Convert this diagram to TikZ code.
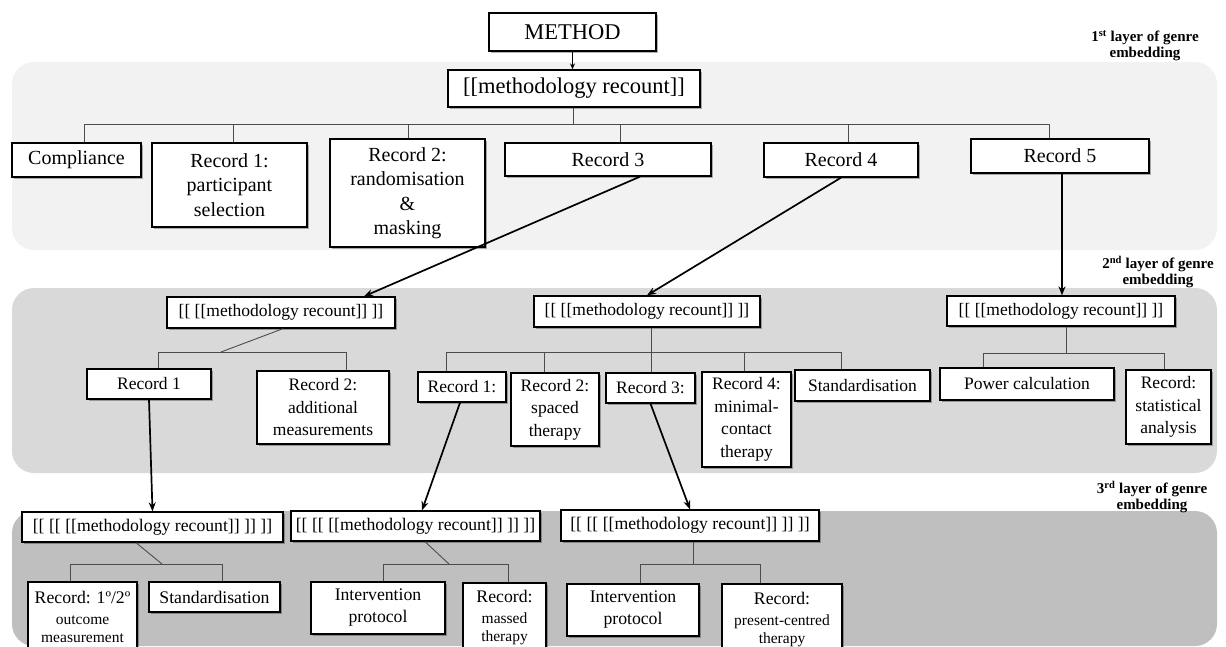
\documentclass[tikz,border=0pt]{standalone}
\usepackage{fontspec}
\setmainfont{Liberation Serif}
\usetikzlibrary{arrows.meta,shadows}

\definecolor{bandA}{HTML}{F2F2F2}
\definecolor{bandB}{HTML}{D9D9D9}
\definecolor{bandC}{HTML}{BFBFBF}

\newcommand\FBig{\fontsize{22.5}{27}\selectfont}
\newcommand\FOne{\fontsize{20}{24.5}\selectfont}
\newcommand\FTwo{\fontsize{17.5}{22.5}\selectfont}
\newcommand\FThree{\fontsize{17.7}{22}\selectfont}
\newcommand\FSmall{\fontsize{15.5}{18}\selectfont}
\newcommand\FLab{\bfseries\fontsize{15}{16}\selectfont}

\begin{document}
\begin{tikzpicture}[x=1pt,y=-1pt,
  band/.style={rounded corners=22pt},
  box/.style={draw=black, line width=1.3pt, fill=white, inner sep=0pt, align=center,
    drop shadow={shadow xshift=1.8pt, shadow yshift=-1.8pt, fill=black, opacity=0.3}},
  sz/.style 2 args={minimum width=#1pt, minimum height=#2pt},
  lab/.style={align=center, inner sep=0pt, font=\FLab},
  bus/.style={line width=0.9pt, draw=black!70},
  arr/.style={line width=1.7pt, -{Stealth[length=9pt,width=7pt]}},
  tarr/.style={line width=0.9pt, -{Stealth[length=6pt,width=5pt]}}
]
\useasboundingbox (0,0) rectangle (1226,646);

% layer bands
\fill[band, bandA] (12,62) rectangle (1217,250);
\fill[band, bandB] (12,288) rectangle (1217,473);
\fill[band, bandC] (12,511) rectangle (1217,646);

% layer captions
\node[lab] (lay1) at (1145,46) {1\textsuperscript{st} layer of genre\\embedding};
\node[lab] (lay2) at (1158,272) {2\textsuperscript{nd} layer of genre\\embedding};
\node[lab] (lay3) at (1152,497) {3\textsuperscript{rd} layer of genre\\embedding};

% top
\node[box, sz={167}{38}, font=\FBig] (method) at (572.5,32) {METHOD};
\node[box, sz={252}{37}, font=\FBig] (mr1) at (574,88.5) {[[methodology recount]]};

% first layer
\node[box, sz={129}{34}, font=\FOne] (comp) at (76.5,160) {Compliance};
\node[box, sz={155}{84}, font=\FOne] (r1) at (229.5,185) {Record 1:\\participant\\selection};
\node[box, sz={155}{108}, font=\FOne] (r2) at (407.5,193) {Record 2:\\randomisation\\\&\\masking};
\node[box, sz={206}{33}, font=\FOne] (r3) at (608,159.5) {Record 3};
\node[box, sz={154}{34}, font=\FOne] (r4) at (841,160) {Record 4};
\node[box, sz={178}{34}, font=\FOne] (r5) at (1060,156) {Record 5};

% second layer
\node[box, sz={228}{31}, font=\FTwo] (l2a) at (281,312.5) {[[ [[methodology recount]] ]]};
\node[box, sz={226}{31}, font=\FTwo] (l2b) at (647,311.5) {[[ [[methodology recount]] ]]};
\node[box, sz={228}{30}, font=\FTwo] (l2c) at (1061,311) {[[ [[methodology recount]] ]]};

\node[box, sz={124}{30}, font=\FTwo] (a1) at (149,384) {Record 1};
\node[box, sz={132}{73}, font=\FTwo] (a2) at (323,407.5) {Record 2:\\additional\\measurements};

\node[box, sz={88}{30}, font=\FTwo] (b1) at (462,387) {Record 1:};
\node[box, sz={88}{73}, font=\FTwo] (b2) at (555,409.5) {Record 2:\\spaced\\therapy};
\node[box, sz={89}{30}, font=\FTwo] (b3) at (650.5,388) {Record 3:};
\node[box, sz={89}{95}, font=\FTwo] (b4) at (746.5,419.5) {Record 4:\\minimal-\\contact\\therapy};
\node[box, sz={135}{31}, font=\FTwo] (b5) at (862.5,385.5) {Standardisation};

\node[box, sz={174}{32}, font=\FTwo] (c1) at (1027,384) {Power calculation};
\node[box, sz={85}{74}, font=\FTwo] (c2) at (1168.5,407) {Record:\\statistical\\analysis};

% third layer
\node[box, sz={261}{30}, font=\FThree] (l3a) at (152.5,527) {[[ [[ [[methodology recount]] ]] ]]};
\node[box, sz={249}{30}, font=\FThree] (l3b) at (415.5,526) {[[ [[ [[methodology recount]] ]] ]]};
\node[box, sz={258}{31}, font=\FThree] (l3c) at (690,525.5) {[[ [[ [[methodology recount]] ]] ]]};

\node[box, sz={109}{70}, font=\FSmall] (d1) at (82.5,617) {{\FThree Record: 1º/2º}\\[3pt]outcome\\measurement};
\node[box, sz={131}{30}, font=\FThree] (d2) at (214.5,597) {Standardisation};

\node[box, sz={134}{52}, font=\FThree] (e1) at (378,608) {Intervention\\protocol};
\node[box, sz={83}{70}, font=\FSmall] (e2) at (504.5,618) {{\FThree Record:}\\[3pt]massed\\therapy};

\node[box, sz={132}{52}, font=\FThree] (f1) at (633,610) {Intervention\\protocol};
\node[box, sz={120}{72}, font=\FSmall] (f2) at (782,620) {{\FThree Record:}\\[3pt]present-centred\\therapy};

% METHOD -> first layer
\draw[tarr] (method.south) -- (method.south |- mr1.north);
\coordinate (j1) at (573,124);
\draw[bus] (mr1.south -| j1) -- (j1);
\draw[bus] ([xshift=7.5pt]comp.north) |- (j1);
\draw[bus] ([xshift=3.5pt]r1.north) |- (j1);
\draw[bus] ([xshift=0.5pt]r2.north) |- (j1);
\draw[bus] ([xshift=12pt]r3.north) |- (j1);
\draw[bus] ([xshift=7pt]r4.north) |- (j1);
\draw[bus] ([xshift=-11pt]r5.north) |- (j1);

% first -> second layer
\draw[arr] ([xshift=32pt]r3.south) -- ([xshift=83pt]l2a.north);
\draw[arr] (r4.south) -- (l2b.north);
\draw[arr] ([xshift=2pt]r5.south) -- ([xshift=1pt]l2c.north);

% second layer branches
\coordinate (j2a) at (221,352);
\draw[bus] ([xshift=2pt]l2a.south) -- (j2a);
\draw[bus] ([xshift=9pt]a1.north) |- (j2a);
\draw[bus] ([xshift=23pt]a2.north) |- (j2a);

\coordinate (j2b) at (651,352);
\draw[bus] (l2b.south -| j2b) -- (j2b);
\draw[bus] ([xshift=-16pt]b1.north) |- (j2b);
\draw[bus] ([xshift=-11pt]b2.north) |- (j2b);
\draw[bus] ([xshift=0.5pt]b3.north) |- (j2b);
\draw[bus] ([xshift=-2.5pt]b4.north) |- (j2b);
\draw[bus] ([xshift=-21.5pt]b5.north) |- (j2b);

\coordinate (j2c) at (1066,353);
\draw[bus] (l2c.south -| j2c) -- (j2c);
\draw[bus] ([xshift=-44pt]c1.north) |- (j2c);
\draw[bus] ([xshift=-4.5pt]c2.north) |- (j2c);

% second -> third layer
\draw[arr] (a1.south) -- (l3a.north);
\draw[arr] ([xshift=-2pt]b1.south) -- ([xshift=6.5pt]l3b.north);
\draw[arr] (b3.south) -- (l3c.north);

% third layer branches
\coordinate (j3a) at (162,564);
\draw[bus] ([xshift=-16.5pt]l3a.south) -- (j3a);
\draw[bus] ([xshift=-12.5pt]d1.north) |- (j3a);
\draw[bus] ([xshift=7.5pt]d2.north) |- (j3a);

\coordinate (j3b) at (449,564);
\draw[bus] ([xshift=9.5pt]l3b.south) -- (j3b);
\draw[bus] ([xshift=5pt]e1.north) |- (j3b);
\draw[bus] ([xshift=3.5pt]e2.north) |- (j3b);

\coordinate (j3c) at (693,564);
\draw[bus] (l3c.south -| j3c) -- (j3c);
\draw[bus] ([xshift=7pt]f1.north) |- (j3c);
\draw[bus] ([xshift=-22pt]f2.north) |- (j3c);
\end{tikzpicture}
\end{document}
